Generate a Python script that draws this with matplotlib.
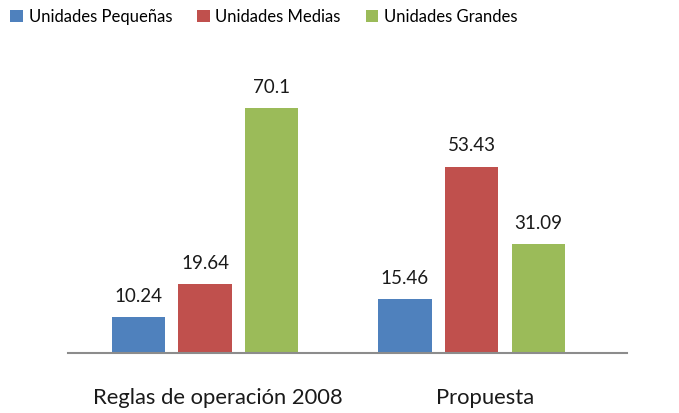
import matplotlib
matplotlib.use("Agg")
import matplotlib.pyplot as plt
import matplotlib.transforms as mtransforms
import numpy as np

categories = ["Reglas de operación 2008", "Propuesta"]
series_names = ["Unidades Pequeñas", "Unidades Medias", "Unidades Grandes"]
pequenas = [10.24, 15.46]
medias = [19.64, 53.43]
grandes = [70.1, 31.09]
value_labels = [["10.24", "15.46"], ["19.64", "53.43"], ["70.1", "31.09"]]

colors = ["#4F81BD", "#C0504D", "#9BBB59"]
plt.rcParams["font.family"] = ["Lato", "DejaVu Sans"]

fig = plt.figure(figsize=(6.79, 4.13), dpi=100)
ax = fig.add_axes([68 / 679, 60 / 413, 559 / 679, 303 / 413])

x = np.arange(len(categories))
width = 0.2
offsets = [-0.25, 0.0, 0.25]
for vals, labs, off, col, name in zip([pequenas, medias, grandes], value_labels,
                                      offsets, colors, series_names):
    bars = ax.bar(x + off, vals, width, color=col, label=name, zorder=2)
    ax.bar_label(bars, labels=labs, padding=9, fontsize=13.5, color="#1a1a1a")

ax.set_xlim(-0.514, 1.583)
ax.set_ylim(0, 303 / 3.49)
for side in ["top", "right", "left"]:
    ax.spines[side].set_visible(False)
ax.spines["bottom"].set_color("#8c8c8c")
ax.spines["bottom"].set_linewidth(1.5)
ax.set_yticks([])
ax.set_xticks(x)
ax.set_xticklabels(categories, fontsize=15.8, color="#1a1a1a")
ax.tick_params(axis="x", length=0, pad=25)

# category labels sit a little right of the group centre in the original
shift = mtransforms.ScaledTranslation(13 / 100, 0, fig.dpi_scale_trans)
for lab in ax.get_xticklabels():
    lab.set_transform(lab.get_transform() + shift)

fig.legend(loc="upper left", bbox_to_anchor=(-0.007, 1.015), ncol=3, frameon=False,
           fontsize=12, handlelength=0.75, handleheight=0.75, handletextpad=0.35,
           columnspacing=1.5)

fig.savefig("out.png", dpi=100)
